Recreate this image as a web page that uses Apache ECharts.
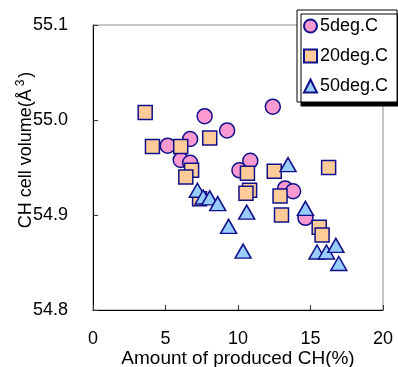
<!DOCTYPE html>
<html>
<head>
<meta charset="utf-8">
<script src="https://cdn.jsdelivr.net/npm/echarts@6/dist/echarts.min.js"></script>
<style>
  html, body { margin: 0; padding: 0; background: #fff; }
  #main { width: 398px; height: 367px; }
</style>
</head>
<body>
<div id="main"></div>
<script>
// values: [amount of CH (%), cell volume]
var data5 = [
  [12.4, 55.014], [7.7, 55.004], [9.25, 54.989], [6.7, 54.980],
  [5.15, 54.973], [6.05, 54.958], [6.7, 54.955], [10.85, 54.957],
  [10.1, 54.947], [13.25, 54.928], [13.8, 54.925], [14.65, 54.897]
];
var data20 = [
  [3.6, 55.008], [4.1, 54.972], [6.05, 54.972], [8.05, 54.981],
  [6.8, 54.947], [6.4, 54.940], [10.65, 54.944], [12.5, 54.946],
  [16.25, 54.950], [10.8, 54.926], [10.55, 54.923], [12.9, 54.920],
  [13.0, 54.900], [15.6, 54.887], [15.8, 54.879], [7.35, 54.917]
];
var data50 = [
  [13.45, 54.953], [7.2, 54.926], [7.6, 54.919], [8.05, 54.918],
  [8.6, 54.912], [9.35, 54.888], [10.6, 54.903], [10.35, 54.862],
  [14.65, 54.907], [15.45, 54.861], [16.1, 54.861], [16.75, 54.868],
  [16.95, 54.849]
];
var seriesNames = ['5deg.C', '20deg.C', '50deg.C'];

var font = 'Liberation Sans, Arial, sans-serif';
var edge = '#10108a';

var chart = echarts.init(document.getElementById('main'));

var option = {
  animation: false,
  textStyle: { fontFamily: font, color: '#000' },
  grid: {
    left: 93, right: 15, top: 25, bottom: 57,
    outerBoundsMode: 'none',
    containLabel: false,
    show: true, borderColor: '#8c8c8c', borderWidth: 1, backgroundColor: '#fff'
  },
  legend: {
    orient: 'vertical',
    left: 297, top: 10,
    padding: [7, 9, 7, 6],
    itemGap: 12,
    itemWidth: 13, itemHeight: 13,
    align: 'left',
    backgroundColor: '#fff',
    borderColor: '#000', borderWidth: 1,
    shadowColor: '#000', shadowBlur: 0, shadowOffsetX: 4, shadowOffsetY: 4,
    textStyle: { fontFamily: font, fontSize: 18, color: '#000', padding: [0, 0, 0, -2] },
    data: [
      { name: seriesNames[0], icon: 'circle' },
      { name: seriesNames[1], icon: 'rect' },
      { name: seriesNames[2], icon: 'triangle' }
    ]
  },
  xAxis: {
    type: 'value',
    min: 0, max: 20, interval: 5,
    name: 'Amount of produced CH(%)',
    nameLocation: 'middle',
    nameGap: 39,
    nameMoveOverlap: false,
    nameTextStyle: { fontFamily: font, fontSize: 19, color: '#000' },
    axisLine: { show: true, lineStyle: { color: '#000', width: 1 } },
    axisTick: { show: true, inside: true, length: 5, lineStyle: { color: '#333' } },
    axisLabel: { fontFamily: font, fontSize: 18, color: '#000', margin: 20 },
    splitLine: { show: false }
  },
  yAxis: {
    type: 'value',
    min: 54.8, max: 55.1, interval: 0.1,
    axisLine: { show: true, lineStyle: { color: '#000', width: 1 } },
    axisTick: { show: true, inside: true, length: 5, lineStyle: { color: '#333' } },
    axisLabel: {
      fontFamily: font, fontSize: 18, color: '#000', margin: 25,
      formatter: function (v) { return v.toFixed(1); }
    },
    splitLine: { show: false }
  },
  graphic: [{
    type: 'text',
    x: 26, y: 150,
    rotation: Math.PI / 2,
    style: {
      text: 'CH cell volume(Å{sup|3})',
      font: '18px ' + font,
      fill: '#000',
      align: 'center',
      verticalAlign: 'middle',
      rich: {
        sup: { fontSize: 12, fontFamily: font, padding: [0, 2, 10, 3] }
      }
    }
  }],
  series: [
    {
      name: seriesNames[0], type: 'scatter', symbol: 'circle', symbolSize: 15,
      itemStyle: { color: '#fb9ad0', borderColor: edge, borderWidth: 1.5, opacity: 1 },
      data: data5
    },
    {
      name: seriesNames[1], type: 'scatter', symbol: 'rect', symbolSize: 14,
      itemStyle: { color: '#ffcc99', borderColor: edge, borderWidth: 1.5, opacity: 1 },
      data: data20
    },
    {
      name: seriesNames[2], type: 'scatter', symbol: 'triangle', symbolSize: [16, 14],
      itemStyle: { color: '#99ccff', borderColor: edge, borderWidth: 1.5, opacity: 1 },
      data: data50
    }
  ]
};

chart.setOption(option);
</script>
</body>
</html>
